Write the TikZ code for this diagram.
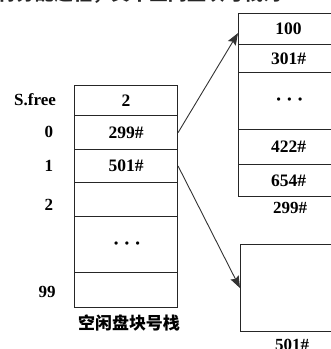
\documentclass[tikz,border=0pt]{standalone}
\usepackage{fontspec}
\setmainfont{Liberation Serif}
\newfontfamily\cjk{Noto Sans CJK SC}
\usetikzlibrary{arrows.meta,calc}
\begin{document}
\begin{tikzpicture}[x=1pt,y=-1pt,
  cell/.style={draw=black!85, line width=1.1pt, inner sep=0pt, anchor=north west,
    font=\fontsize{17.5}{17.5}\selectfont\bfseries},
  lab/.style={inner sep=0pt, font=\fontsize{17}{17}\selectfont\bfseries},
  arr/.style={draw=black!80, line width=0.9pt, -{Stealth[length=12pt,width=9pt,inset=2pt]}},
  dots/.style={font=\fontsize{12}{12}\selectfont\bfseries}]
\useasboundingbox (0,0) rectangle (331,349);
\clip (0,0) rectangle (331,349);
% fragment of the line above, cut by the page edge
\node[anchor=base west, inner sep=0pt, font=\cjk\bfseries\fontsize{19}{19}\selectfont, text=black!85] (top) at (-3,0.5) {将分配过程，其中空闲盘块号栈为};
% left stack
\node[cell, minimum width=103, minimum height=30] (f) at (74,85) {2};
\node[cell, minimum width=103, minimum height=34] (r0) at (74,115) {299\#};
\node[cell, minimum width=103, minimum height=33] (r1) at (74,149) {501\#};
\node[cell, minimum width=103, minimum height=34] (r2) at (74,182) {};
\node[cell, minimum width=103, minimum height=56] (rd) at (74,216) {};
\node[cell, minimum width=103, minimum height=35] (r99) at (74,272) {};
\node[dots] (d1) at ($(rd.center)+(1,0)$) {\textbullet\hspace{6.5pt}\textbullet\hspace{6.5pt}\textbullet};
\node[lab] (lf) at (35,100) {S.free};
\node[lab] (l0) at (49,132) {0};
\node[lab] (l1) at (49,166) {1};
\node[lab] (l2) at (49,205) {2};
\node[lab] (l99) at (47,292) {99};
\node[inner sep=0pt, font=\cjk\bfseries\fontsize{17}{17}\selectfont] (cap) at (129,323) {空闲盘块号栈};
% right top block
\node[cell, minimum width=100, minimum height=31] (t100) at (238,13) {100};
\node[cell, minimum width=100, minimum height=28] (t301) at (238,44) {301\#};
\node[cell, minimum width=100, minimum height=57] (tdot) at (238,72) {};
\node[cell, minimum width=100, minimum height=35] (t422) at (238,129) {422\#};
\node[cell, minimum width=100, minimum height=32] (t654) at (238,164) {654\#};
\node[dots] (d2) at ($(tdot.center)+(1,0)$) {\textbullet\hspace{6.5pt}\textbullet\hspace{6.5pt}\textbullet};
\node[lab] (c299) at (290,208) {299\#};
% right bottom block
\node[cell, minimum width=100, minimum height=87] (b) at (240,244) {};
\node[lab, anchor=base] (c501) at (292,350) {501\#};
% connectors
\coordinate (e1) at ($(t100.west)+(0,4)$);
\draw[arr] (r0.east) -- (e1);
\draw[arr] (r1.east) -- (b.west);
\end{tikzpicture}
\end{document}
